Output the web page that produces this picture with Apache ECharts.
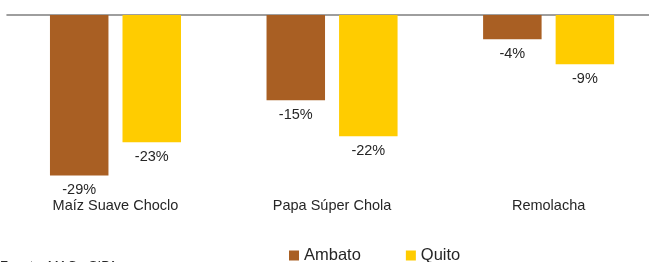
<!DOCTYPE html>
<html>
<head>
<meta charset="utf-8">
<script src="https://cdn.jsdelivr.net/npm/echarts@6/dist/echarts.min.js"></script>
<style>
  html, body { margin: 0; padding: 0; background: #fff; }
  #chart { width: 649px; height: 262px; }
</style>
</head>
<body>
<div id="chart"></div>
<script>
var categories = ['Maíz Suave Choclo', 'Papa Súper Chola', 'Remolacha'];
var ambato = [-29, -15.4, -4.4];
var quito = [-23, -21.9, -8.9];
var seriesNames = ['Ambato', 'Quito'];

var font = 'Liberation Sans';
var chart = echarts.init(document.getElementById('chart'), null, { renderer: 'canvas' });

function pct(p) { return Math.round(p.value) + '%'; }

var labelStyle = {
  show: true,
  position: 'bottom',
  distance: 7,
  formatter: pct,
  color: '#262626',
  fontFamily: font,
  fontSize: 14.5
};

chart.setOption({
  animation: false,
  // plot runs past the right edge, as in the cropped original
  grid: { left: 7.2, width: 649.7, top: 15, bottom: 70, outerBoundsMode: 'none' },
  legend: {
    data: seriesNames,
    left: 284,
    top: 242,
    icon: 'rect',
    itemWidth: 10,
    itemHeight: 10,
    itemGap: 45,
    textStyle: { color: '#262626', fontFamily: font, fontSize: 16.5 }
  },
  xAxis: [{
    type: 'category',
    data: categories,
    position: 'top',
    axisLine: { show: true, onZero: false, lineStyle: { color: '#9e9e9e', width: 2 } },
    axisTick: { show: false },
    axisLabel: { show: false }
  }, {
    type: 'category',
    data: categories,
    position: 'bottom',
    axisLine: { show: false, onZero: false },
    axisTick: { show: false },
    axisLabel: { color: '#262626', fontFamily: font, fontSize: 14.5, margin: 6 }
  }],
  yAxis: {
    type: 'value',
    min: -32,
    max: 0,
    show: false,
    splitLine: { show: false }
  },
  series: [{
    name: seriesNames[0],
    type: 'bar',
    data: ambato,
    barWidth: 58.5,
    barGap: '24%',
    itemStyle: { color: '#a95f23' },
    label: labelStyle
  }, {
    name: seriesNames[1],
    type: 'bar',
    data: quito,
    barWidth: 58.5,
    barGap: '24%',
    itemStyle: { color: '#ffcc00' },
    label: labelStyle
  }],
  graphic: [{
    type: 'text',
    left: 0,
    top: 259.5,
    style: { text: 'Fuente: MAG - SIPA', fill: '#262626', font: '13px "Liberation Sans"' }
  }]
});
</script>
</body>
</html>
